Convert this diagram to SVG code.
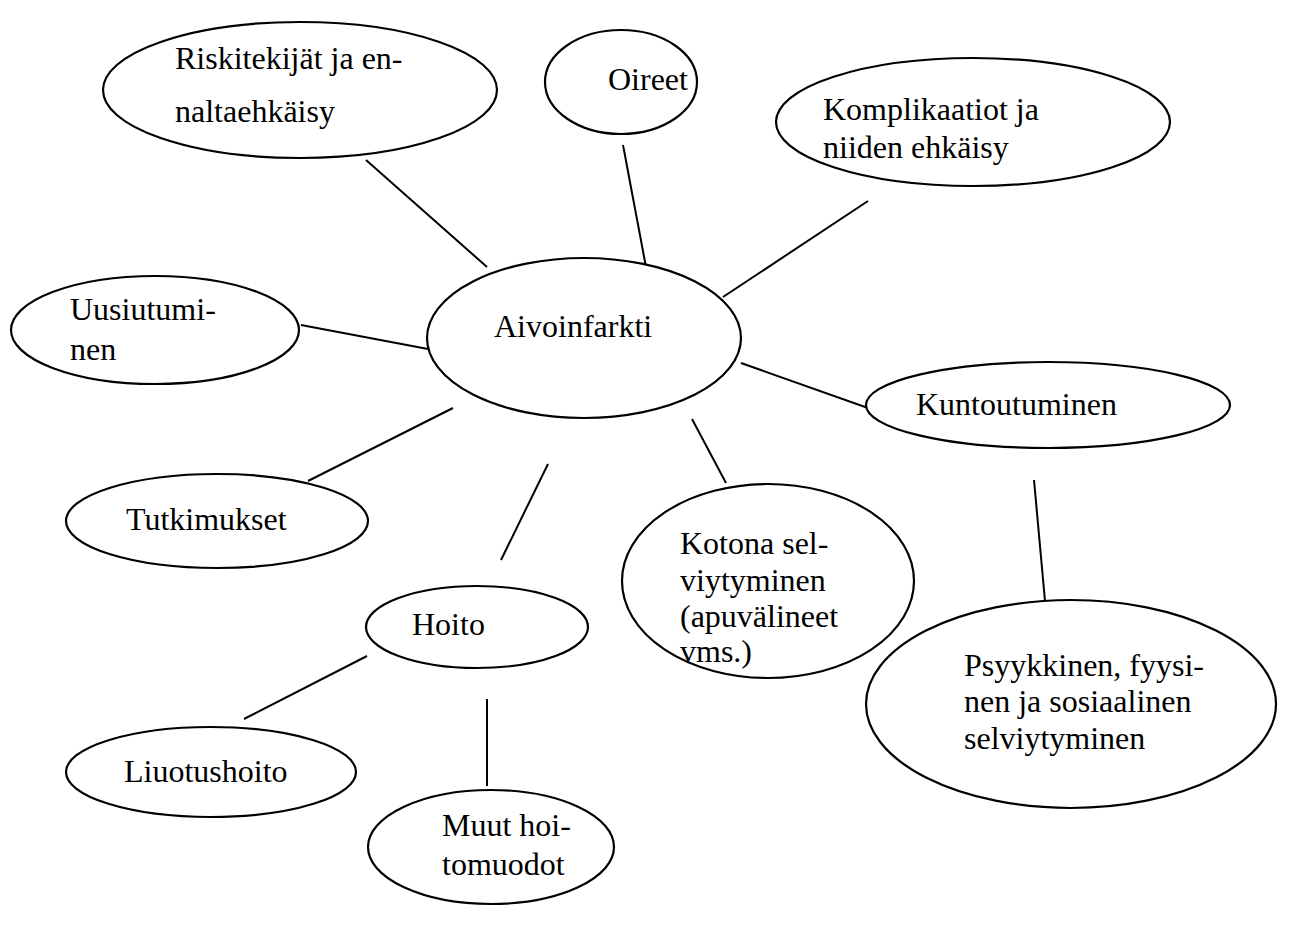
<svg xmlns="http://www.w3.org/2000/svg" width="1299" height="925" viewBox="0 0 1299 925">
<style>
.n{fill:#fff;stroke:#000;stroke-width:2.2}
.t{font-family:'Liberation Serif','Tinos','Times New Roman','DejaVu Serif',serif;font-size:32px;fill:#000}
.c{stroke:#000;stroke-width:2;fill:none}
</style>
<rect width="1299" height="925" fill="#fff"/>
<g id="connectors">
<line class="c" x1="366" y1="160" x2="487" y2="267"/>
<line class="c" x1="623" y1="145" x2="646" y2="267"/>
<line class="c" x1="868" y1="201" x2="723" y2="297"/>
<line class="c" x1="301" y1="325" x2="428" y2="349"/>
<line class="c" x1="741" y1="363" x2="868" y2="408"/>
<line class="c" x1="453" y1="408" x2="308" y2="481"/>
<line class="c" x1="548" y1="464" x2="501" y2="560"/>
<line class="c" x1="692" y1="419" x2="726" y2="483"/>
<line class="c" x1="1034" y1="480" x2="1045" y2="601"/>
<line class="c" x1="367" y1="656" x2="244" y2="719"/>
<line class="c" x1="487" y1="699" x2="487" y2="786"/>
</g>
<g id="riskitekijat"><ellipse class="n" cx="300" cy="90" rx="197" ry="68"/><text class="t" x="175" y="69">Riskitekijät ja en-</text><text class="t" x="175" y="122">naltaehkäisy</text></g>
<g id="oireet"><ellipse class="n" cx="621" cy="82" rx="76" ry="52"/><text class="t" x="608" y="90">Oireet</text></g>
<g id="komplikaatiot"><ellipse class="n" cx="973" cy="122" rx="197" ry="64"/><text class="t" x="823" y="120">Komplikaatiot ja</text><text class="t" x="823" y="158">niiden ehkäisy</text></g>
<g id="uusiutuminen"><ellipse class="n" cx="155" cy="330" rx="144" ry="54"/><text class="t" x="70" y="320">Uusiutumi-</text><text class="t" x="70" y="360">nen</text></g>
<g id="aivoinfarkti"><ellipse class="n" cx="584" cy="338" rx="157" ry="80"/><text class="t" x="494" y="337">Aivoinfarkti</text></g>
<g id="kuntoutuminen"><ellipse class="n" cx="1048" cy="405" rx="182" ry="43"/><text class="t" x="916" y="415">Kuntoutuminen</text></g>
<g id="tutkimukset"><ellipse class="n" cx="217" cy="521" rx="151" ry="47"/><text class="t" x="126" y="530">Tutkimukset</text></g>
<g id="kotona"><ellipse class="n" cx="768" cy="581" rx="146" ry="97"/><text class="t" x="680" y="554">Kotona sel-</text><text class="t" x="680" y="591">viytyminen</text><text class="t" x="680" y="627">(apuvälineet</text><text class="t" x="680" y="662">vms.)</text></g>
<g id="hoito"><ellipse class="n" cx="477" cy="627" rx="111" ry="41"/><text class="t" x="412" y="635">Hoito</text></g>
<g id="psyykkinen"><ellipse class="n" cx="1071" cy="704" rx="205" ry="104"/><text class="t" x="964" y="676">Psyykkinen, fyysi-</text><text class="t" x="964" y="712">nen ja sosiaalinen</text><text class="t" x="964" y="749">selviytyminen</text></g>
<g id="liuotushoito"><ellipse class="n" cx="211" cy="772" rx="145" ry="45"/><text class="t" x="124" y="782">Liuotushoito</text></g>
<g id="muut"><ellipse class="n" cx="491" cy="847" rx="123" ry="57"/><text class="t" x="442" y="836">Muut hoi-</text><text class="t" x="442" y="875">tomuodot</text></g>
</svg>
